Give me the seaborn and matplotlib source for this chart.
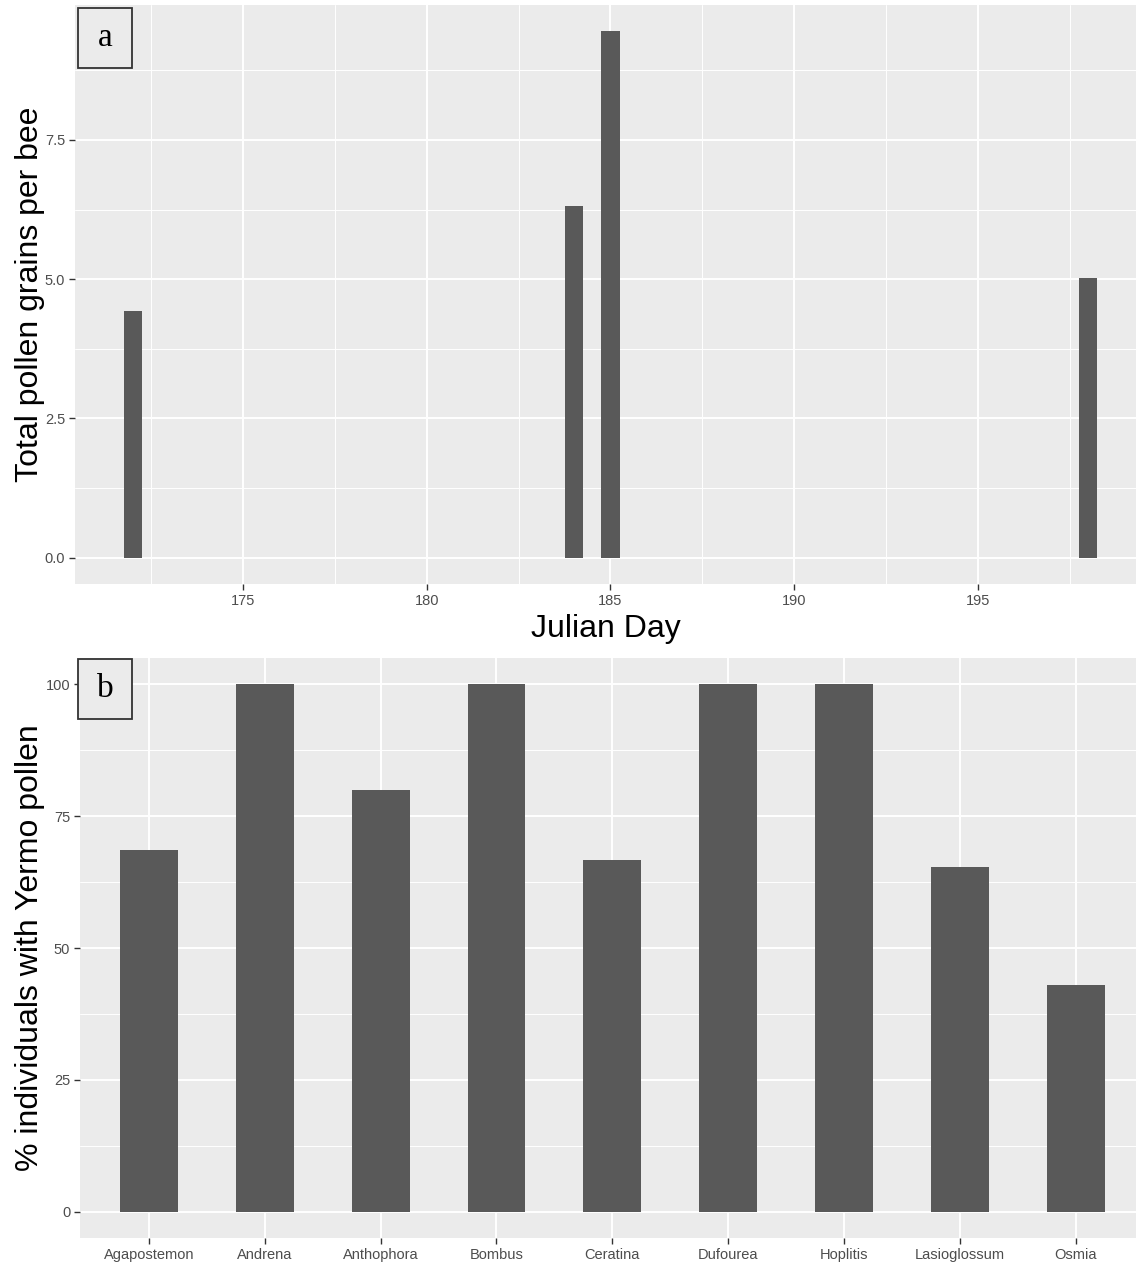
import matplotlib
matplotlib.use("Agg")
import matplotlib.pyplot as plt
from matplotlib.patches import Rectangle
from matplotlib.ticker import FixedLocator, FormatStrFormatter
import seaborn as sns
import pandas as pd

# ---- data ----
julian_days = [172, 184, 185, 198]
pollen_per_bee = [4.42, 6.32, 9.45, 5.02]

genera = ["Agapostemon", "Andrena", "Anthophora", "Bombus", "Ceratina",
          "Dufourea", "Hoplitis", "Lasioglossum", "Osmia"]
pct_yermo = [68.6, 100, 80, 100, 66.7, 100, 100, 65.4, 43.0]

# ---- style ----
sns.set_theme(style="darkgrid")
plt.rcParams['font.family'] = ['Liberation Sans', 'DejaVu Sans']

W, H = 1136, 1266
fig = plt.figure(figsize=(W / 100, H / 100), dpi=100)

BG = "#EBEBEB"
BAR = "#595959"
TICKC = "#4D4D4D"


def px_axes(left, top, right, bottom):
    return fig.add_axes([left / W, 1 - bottom / H, (right - left) / W, (bottom - top) / H])


def style_axes(ax):
    ax.set_facecolor(BG)
    for s in ax.spines.values():
        s.set_visible(False)
    ax.grid(which="major", color="white", linewidth=1.4)
    ax.grid(which="minor", color="white", linewidth=0.7)
    ax.set_axisbelow(True)
    ax.tick_params(which="major", length=4, width=1.0, color="#333333",
                   labelsize=10.5, labelcolor=TICKC, pad=3, bottom=True, left=True)
    ax.tick_params(which="minor", length=0)


# ---- panel a ----
axa = px_axes(75, 5, 1136, 584)
dfa = pd.DataFrame({"day": julian_days, "pollen": pollen_per_bee})
sns.barplot(data=dfa, x="day", y="pollen", native_scale=True, width=0.5,
            color=BAR, saturation=1, linewidth=0, ax=axa)
style_axes(axa)
axa.set_xlim(170.43, 199.30)
axa.set_ylim(-0.4725, 9.9225)
axa.xaxis.set_major_locator(FixedLocator([175, 180, 185, 190, 195]))
axa.xaxis.set_minor_locator(FixedLocator([172.5, 177.5, 182.5, 187.5, 192.5, 197.5]))
axa.xaxis.set_major_formatter(FormatStrFormatter("%d"))
axa.yaxis.set_major_locator(FixedLocator([0, 2.5, 5.0, 7.5]))
axa.yaxis.set_minor_locator(FixedLocator([1.25, 3.75, 6.25, 8.75]))
axa.yaxis.set_major_formatter(FormatStrFormatter("%.1f"))
axa.set_xlabel("Julian Day", fontsize=23, color="black")
axa.set_ylabel("Total pollen grains per bee", fontsize=23, color="black")
axa.xaxis.set_label_coords(0.5, -0.052)
axa.yaxis.set_label_coords(-0.028, 0.5)

# ---- panel b ----
axb = px_axes(80, 658, 1136, 1238)
dfb = pd.DataFrame({"genus": genera, "pct": pct_yermo})
sns.barplot(data=dfb, x="genus", y="pct", order=genera, width=0.5,
            color=BAR, saturation=1, linewidth=0, ax=axb)
style_axes(axb)
axb.set_xlim(-0.595, 8.52)
axb.set_ylim(-5, 105)
axb.yaxis.set_major_locator(FixedLocator([0, 25, 50, 75, 100]))
axb.yaxis.set_minor_locator(FixedLocator([12.5, 37.5, 62.5, 87.5]))
axb.set_xlabel("")
axb.set_ylabel("% individuals with Yermo pollen", fontsize=23, color="black")
axb.yaxis.set_label_coords(-0.033, 0.5)

# ---- panel letters ----
def panel_box(x0, y0, x1, y1, letter):
    rect = Rectangle((x0 / W, 1 - y1 / H), (x1 - x0) / W, (y1 - y0) / H,
                     transform=fig.transFigure, facecolor="#EBEBEB",
                     edgecolor="#333333", linewidth=1.3, zorder=10)
    fig.add_artist(rect)
    fig.text((x0 + x1) / 2 / W, 1 - (y0 + y1) / 2 / H, letter,
             ha="center", va="center", fontsize=24,
             family=["Liberation Serif", "DejaVu Serif"], color="black", zorder=11)


panel_box(78, 8, 132, 68, "a")
panel_box(78, 659, 132, 719, "b")

fig.savefig("out.png", dpi=100, facecolor="white")
